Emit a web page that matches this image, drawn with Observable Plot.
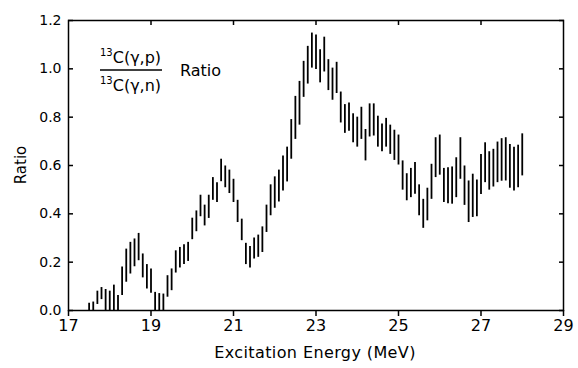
<!DOCTYPE html>
<html>
<head>
<meta charset="utf-8">
<script src="https://cdn.jsdelivr.net/npm/d3@7"></script>
<script src="https://cdn.jsdelivr.net/npm/@observablehq/plot@0.6"></script>
<style>
  html, body { margin: 0; padding: 0; background: #fff; }
  #chart svg { display: block; }
</style>
</head>
<body>
<div id="chart"></div>
<script>
const energy = [
  17.5, 17.6, 17.7, 17.8, 17.9, 18.0, 18.1, 18.2, 18.3, 18.4,
  18.5, 18.6, 18.7, 18.8, 18.9, 19.0, 19.1, 19.2, 19.3, 19.4,
  19.5, 19.6, 19.7, 19.8, 19.9, 20.0, 20.1, 20.2, 20.3, 20.4,
  20.5, 20.6, 20.7, 20.8, 20.9, 21.0, 21.1, 21.2, 21.3, 21.4,
  21.5, 21.6, 21.7, 21.8, 21.9, 22.0, 22.1, 22.2, 22.3, 22.4,
  22.5, 22.6, 22.7, 22.8, 22.9, 23.0, 23.1, 23.2, 23.3, 23.4,
  23.5, 23.6, 23.7, 23.8, 23.9, 24.0, 24.1, 24.2, 24.3, 24.4,
  24.5, 24.6, 24.7, 24.8, 24.9, 25.0, 25.1, 25.2, 25.3, 25.4,
  25.5, 25.6, 25.7, 25.8, 25.9, 26.0, 26.1, 26.2, 26.3, 26.4,
  26.5, 26.6, 26.7, 26.8, 26.9, 27.0, 27.1, 27.2, 27.3, 27.4,
  27.5, 27.6, 27.7, 27.8, 27.9, 28.0
];
const ratioLow = [
  0.000, 0.000, 0.025, 0.045, 0.000, 0.000, 0.000, 0.000, 0.062, 0.117,
  0.151, 0.181, 0.206, 0.135, 0.089, 0.071, 0.000, 0.000, 0.000, 0.055,
  0.082, 0.155, 0.176, 0.190, 0.203, 0.293, 0.326, 0.388, 0.350, 0.381,
  0.456, 0.447, 0.533, 0.508, 0.484, 0.447, 0.364, 0.289, 0.190, 0.176,
  0.213, 0.220, 0.240, 0.323, 0.392, 0.423, 0.449, 0.495, 0.532, 0.626,
  0.708, 0.767, 0.882, 0.937, 1.003, 0.997, 0.942, 0.987, 0.910, 0.870,
  0.898, 0.776, 0.733, 0.742, 0.694, 0.676, 0.708, 0.619, 0.718, 0.722,
  0.676, 0.657, 0.676, 0.646, 0.621, 0.602, 0.498, 0.454, 0.467, 0.481,
  0.392, 0.340, 0.371, 0.460, 0.550, 0.560, 0.447, 0.442, 0.440, 0.467,
  0.543, 0.435, 0.364, 0.385, 0.388, 0.480, 0.529, 0.498, 0.511, 0.529,
  0.535, 0.536, 0.506, 0.495, 0.508, 0.557
];
const ratioHigh = [
  0.030, 0.035, 0.080, 0.095, 0.087, 0.080, 0.105, 0.062, 0.180, 0.254,
  0.282, 0.296, 0.319, 0.234, 0.190, 0.172, 0.075, 0.070, 0.068, 0.144,
  0.172, 0.247, 0.261, 0.272, 0.282, 0.382, 0.412, 0.477, 0.436, 0.477,
  0.550, 0.529, 0.626, 0.598, 0.581, 0.543, 0.456, 0.378, 0.278, 0.265,
  0.300, 0.312, 0.346, 0.436, 0.520, 0.553, 0.581, 0.639, 0.676, 0.790,
  0.886, 0.948, 1.031, 1.093, 1.148, 1.140, 1.079, 1.131, 1.038, 1.003,
  1.027, 0.904, 0.852, 0.859, 0.814, 0.800, 0.841, 0.749, 0.855, 0.855,
  0.804, 0.772, 0.795, 0.767, 0.746, 0.726, 0.619, 0.566, 0.588, 0.612,
  0.520, 0.460, 0.506, 0.605, 0.715, 0.726, 0.588, 0.591, 0.594, 0.632,
  0.715, 0.598, 0.536, 0.564, 0.540, 0.646, 0.694, 0.657, 0.667, 0.697,
  0.711, 0.715, 0.687, 0.676, 0.684, 0.731
];
const xTicks = [17, 19, 21, 23, 25, 27, 29];
const xTopTicks = [19, 21, 23, 25, 27];
const yTicks = [0, 0.2, 0.4, 0.6, 0.8, 1.0, 1.2];

const rows = energy.map((e, i) => ({e, lo: ratioLow[i], hi: ratioHigh[i]}));

const chart = Plot.plot({
  width: 578,
  height: 368,
  marginLeft: 68,
  marginRight: 15,
  marginTop: 20,
  marginBottom: 58,
  style: {fontFamily: "DejaVu Sans", fontSize: "13px", color: "black", background: "white"},
  x: {domain: [17, 29]},
  y: {domain: [0, 1.2]},
  marks: [
    Plot.ruleX(rows, {x: "e", y1: "lo", y2: "hi", stroke: "black", strokeWidth: 1.8}),
    Plot.frame({stroke: "black", strokeWidth: 1.5}),
    Plot.axisX({anchor: "bottom", ticks: xTicks, tickSize: 6, tickPadding: 3, fontSize: 16,
      tickFormat: d => String(d), label: null, strokeWidth: 1.5}),
    Plot.axisX({anchor: "top", ticks: xTopTicks, tickSize: -4, tickFormat: () => "", label: null, strokeWidth: 1.5}),
    Plot.axisY({anchor: "left", ticks: yTicks, tickSize: -5, tickPadding: 12, fontSize: 14,
      tickFormat: d => d.toFixed(1), label: null, strokeWidth: 1.5}),
    Plot.axisY({anchor: "right", ticks: yTicks, tickSize: -5, tickFormat: () => "", label: null, strokeWidth: 1.5})
  ]
});
document.getElementById("chart").append(chart);

const svg = d3.select(chart);
const g = svg.append("g").attr("font-family", "DejaVu Sans").attr("fill", "black").attr("text-anchor", "start");

// Axis titles
g.append("text").attr("x", 315).attr("y", 358).attr("text-anchor", "middle")
  .attr("font-size", 16).attr("letter-spacing", 0.4).text("Excitation Energy (MeV)");
g.append("text").attr("transform", "translate(26,165) rotate(-90)").attr("text-anchor", "middle")
  .attr("font-size", 15).text("Ratio");

// Annotation: ratio formula
function formula(y, text) {
  const t = g.append("text").attr("x", 100).attr("y", y).attr("font-size", 16);
  t.append("tspan").attr("font-size", 10).attr("dy", -7).text("13");
  t.append("tspan").attr("dy", 7).text(text);
}
formula(63, "C(γ,p)");
g.append("line").attr("x1", 100).attr("x2", 162).attr("y1", 70).attr("y2", 70)
  .attr("stroke", "black").attr("stroke-width", 1.3);
formula(91, "C(γ,n)");
g.append("text").attr("x", 180).attr("y", 76).attr("font-size", 16).text("Ratio");
</script>
</body>
</html>
